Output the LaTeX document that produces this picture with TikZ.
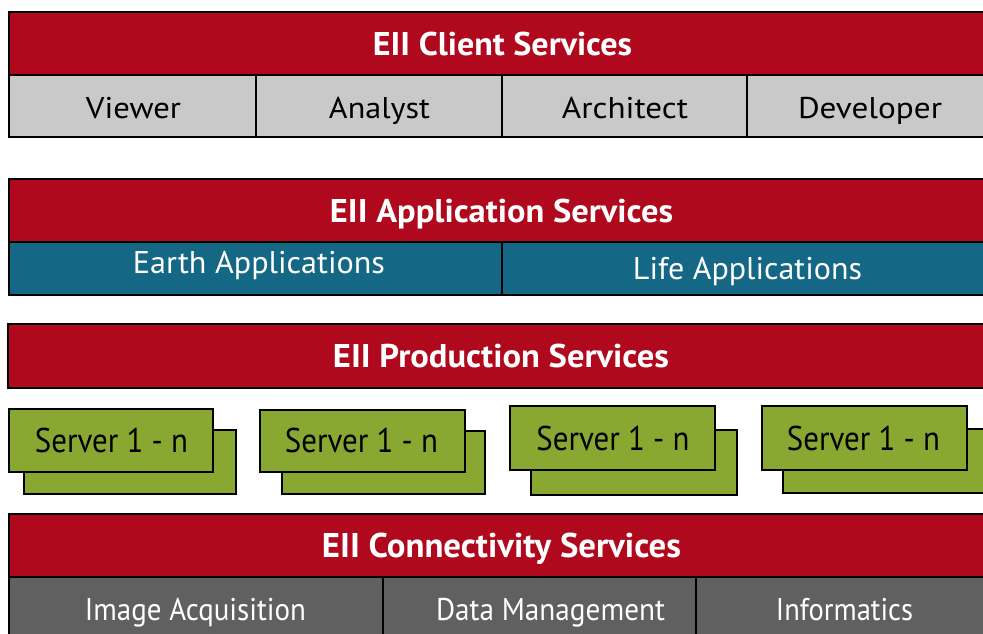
\documentclass[tikz,border=0pt]{standalone}
\usepackage{fontspec}
\setmainfont{PT Sans}
\usepackage{graphicx}
\definecolor{eiired}{RGB}{176,8,29}
\definecolor{eiilgray}{RGB}{201,201,201}
\definecolor{eiiteal}{RGB}{21,104,133}
\definecolor{eiigreen}{RGB}{137,168,50}
\definecolor{eiidgray}{RGB}{96,96,96}
\newcommand\fitt[3]{\resizebox{#1}{#2}{\raisebox{0pt}[\fontcharht\font`E][0pt]{#3}}}
\newcommand\cellbox[6]{\node[blk, fill=#6, minimum width={(#4-#2)*1pt}, minimum height={(#5-#3)*1pt}] (#1) at (#2,#3) {};}
\tikzset{
  blk/.style={draw=black, line width=2.4pt, anchor=north west, inner sep=0pt, outer sep=0pt},
  lbl/.style={anchor=base, inner sep=0pt, outer sep=0pt},
  title/.style={lbl, text=white, font=\bfseries},
  dark/.style={lbl, text=black},
  light/.style={lbl, text=white},
}
\begin{document}
\begin{tikzpicture}[x=1pt,y=-1pt]
\useasboundingbox (0,0) rectangle (983,634);
\fill[white] (0,0) rectangle (983,634);
\clip (0,0) rectangle (983,634);
% Client services
\cellbox{client}{9}{12}{995}{75}{eiired}
\cellbox{viewer}{9}{75}{256}{137}{eiilgray}
\cellbox{analyst}{256}{75}{502}{137}{eiilgray}
\cellbox{architect}{502}{75}{747}{137}{eiilgray}
\cellbox{developer}{747}{75}{995}{137}{eiilgray}
\node[title] (tclient) at (502.5,56) {\fitt{259pt}{23pt}{EII Client Services}};
\node[dark] (tviewer) at (133.5,118) {\fitt{95pt}{21pt}{Viewer}};
\node[dark] (tanalyst) at (379.5,118) {\fitt{101pt}{21pt}{Analyst}};
\node[dark] (tarchitect) at (625,118) {\fitt{126pt}{21pt}{Architect}};
\node[dark] (tdeveloper) at (870,118) {\fitt{144pt}{21pt}{Developer}};
% Application services
\cellbox{app}{9}{179}{995}{242}{eiired}
\cellbox{earth}{9}{242}{502}{295}{eiiteal}
\cellbox{life}{502}{242}{995}{295}{eiiteal}
\node[title] (tapp) at (501.5,222) {\fitt{343pt}{23pt}{EII Application Services}};
\node[light] (tearth) at (259,273) {\fitt{252pt}{22pt}{Earth Applications}};
\node[light] (tlife) at (747.5,279) {\fitt{229pt}{22pt}{Life Applications}};
% Production services
\cellbox{prod}{8}{324}{995}{388}{eiired}
\node[title] (tprod) at (501,367) {\fitt{336pt}{23pt}{EII Production Services}};
\cellbox{srvAback}{24}{430}{236}{494}{eiigreen}
\cellbox{srvA}{9}{409}{213}{472}{eiigreen}
\cellbox{srvBback}{282}{431}{485}{494}{eiigreen}
\cellbox{srvB}{260}{410}{465}{472}{eiigreen}
\cellbox{srvCback}{531}{430}{737}{495}{eiigreen}
\cellbox{srvC}{510}{406}{715}{470}{eiigreen}
\cellbox{srvDback}{783}{429}{995}{493}{eiigreen}
\cellbox{srvD}{762}{406}{967}{470}{eiigreen}
\node[dark] (tsrvA) at (111.5,452) {\fitt{153pt}{24pt}{Server 1 - n}};
\node[dark] (tsrvB) at (361.5,452) {\fitt{153pt}{24pt}{Server 1 - n}};
\node[dark] (tsrvC) at (613,450) {\fitt{153pt}{24pt}{Server 1 - n}};
\node[dark] (tsrvD) at (863.5,450) {\fitt{153pt}{24pt}{Server 1 - n}};
% Connectivity services
\cellbox{conn}{9}{514}{995}{577}{eiired}
\cellbox{image}{9}{577}{383}{645}{eiidgray}
\cellbox{data}{383}{577}{696}{645}{eiidgray}
\cellbox{info}{696}{577}{995}{645}{eiidgray}
\node[title] (tconn) at (501.5,557) {\fitt{359pt}{24pt}{EII Connectivity Services}};
\node[light] (timage) at (195.5,620) {\fitt{221pt}{22pt}{Image Acquisition}};
\node[light] (tdata) at (550.5,620) {\fitt{229pt}{22pt}{Data Management}};
\node[light] (tinfo) at (844.5,620) {\fitt{137pt}{22pt}{Informatics}};
\end{tikzpicture}
\end{document}
